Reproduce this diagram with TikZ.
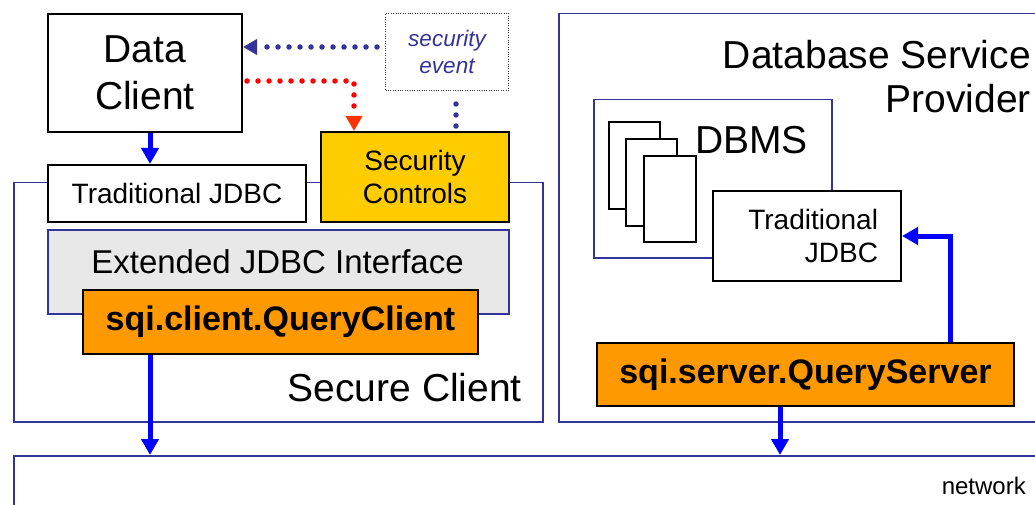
\documentclass[tikz,border=0pt]{standalone}
\usepackage{fontspec}
\setmainfont{Liberation Sans}
\usetikzlibrary{arrows.meta}

\definecolor{frameblue}{HTML}{333399}
\definecolor{flowblue}{HTML}{0000FF}
\definecolor{ctrlyellow}{HTML}{FFCC00}
\definecolor{sqiorange}{HTML}{FF9900}
\definecolor{ifacegray}{HTML}{E8E8E8}
\definecolor{alertred}{HTML}{FF0000}
\definecolor{alertorange}{HTML}{FF3300}

\begin{document}
\begin{tikzpicture}[x=1pt,y=-1pt,
  blockbox/.style={draw=black, line width=2pt, fill=white, inner sep=0pt,
    anchor=north west, align=center},
  frame/.style={draw=frameblue, line width=1.5pt, inner sep=0pt, anchor=north west},
  sqibox/.style={blockbox, fill=sqiorange, font=\fontsize{34}{40}\selectfont\bfseries},
  flow/.style={draw=flowblue, line width=5pt, -{Triangle[length=16pt,width=17pt]}},
  evdot/.style={draw=frameblue, line width=5.5pt, line cap=round,
    dash pattern=on 0pt off 11pt},
  alertdot/.style={draw=alertred, line width=5.5pt, line cap=round,
    dash pattern=on 0pt off 11pt},
  biglabel/.style={inner sep=0pt, font=\fontsize{39}{44}\selectfont}
]
\useasboundingbox (0,0) rectangle (1035,505);

% enclosing frames
\node[frame, minimum width=529pt, minimum height=239pt] (scf) at (13,182) {};
\begin{scope}
  \clip (0,0) rectangle (1035,505);
  \node[frame, minimum width=500pt, minimum height=408pt] (dsp) at (558,13) {};
  \node[frame, minimum width=1040pt, minimum height=80pt] (net) at (13,455) {};
\end{scope}

% client side
\node[blockbox, minimum width=194pt, minimum height=118pt,
  font=\fontsize{39}{47}\selectfont] (dc) at (47,13) {Data\\Client};
\node[draw=black!80, line width=1pt, dash pattern=on 1pt off 1.4pt,
  inner sep=0pt, anchor=north west, align=center,
  minimum width=123pt, minimum height=77pt,
  text=frameblue, font=\fontsize{22.5}{27.5}\selectfont\itshape]
  (se) at (385,13) {security\\event};
\node[blockbox, minimum width=258pt, minimum height=57pt,
  font=\fontsize{28}{33}\selectfont] (tjc) at (47,164) {Traditional JDBC};
\node[blockbox, fill=ctrlyellow, minimum width=188pt, minimum height=90pt,
  font=\fontsize{28}{33}\selectfont] (sc) at (320,131) {Security\\Controls};
\node[frame, fill=ifacegray, minimum width=461pt, minimum height=84pt]
  (ext) at (47,229) {};
\node[anchor=north, inner sep=0pt, font=\fontsize{33}{38}\selectfont]
  (extlabel) at (277.5,249) {Extended JDBC Interface};
\node[sqibox, minimum width=395pt, minimum height=64pt] (qc) at (82,289)
  {\raisebox{-2pt}{sqi.client.QueryClient}};
\node[biglabel, anchor=east] (sclabel) at (522,388) {Secure Client};

% provider side
\node[biglabel, anchor=north east, align=right] (dsplabel) at (1031,40)
  {Database Service\\Provider};
\node[frame, minimum width=238pt, minimum height=158pt] (dbf) at (593,99) {};
\node[blockbox, minimum width=51pt, minimum height=87pt] (doca) at (608,121) {};
\node[blockbox, minimum width=51pt, minimum height=87pt] (docb) at (625,138) {};
\node[blockbox, minimum width=52pt, minimum height=86pt] (docc) at (643,155) {};
\node[biglabel, anchor=west] (dbms) at (695,140) {DBMS};
\node[blockbox, align=right, inner xsep=23pt, text width=142pt,
  minimum height=90pt, font=\fontsize{28}{33}\selectfont]
  (tjs) at (712,190) {Traditional\\JDBC};
\node[sqibox, minimum width=417pt, minimum height=63pt] (qs) at (596,342)
  {sqi.server.QueryServer};
\node[anchor=east, inner sep=0pt, font=\fontsize{24}{28}\selectfont]
  (netlabel) at (1026,486) {network};

% data flow
\coordinate (xa) at (150,0);
\coordinate (xb) at (780,0);
\coordinate (xc) at (950,0);
\draw[flow] (dc.south -| xa) -- (tjc.north -| xa);
\draw[flow] (qc.south -| xa) -- (net.north -| xa);
\draw[flow] (qs.south -| xb) -- (net.north -| xb);
\draw[flow] (qs.north -| xc) |- (tjs.east);

% security event signalling
\coordinate (ya) at (0,47);
\coordinate (yr) at (0,81);
\coordinate (xr) at (354,0);
\coordinate (xe) at (456,0);
\draw[evdot, -{Triangle[length=14pt,width=15pt]}]
  ([xshift=-8pt]se.west |- ya) -- (dc.east |- ya);
\draw[alertdot, -{Triangle[length=15pt,width=16pt,color=alertorange]}]
  ([xshift=4pt]dc.east |- yr) -| (sc.north -| xr);
\draw[evdot] ([yshift=5pt]sc.north -| xe) -- ([yshift=-12pt]se.south -| xe);
\end{tikzpicture}
\end{document}
